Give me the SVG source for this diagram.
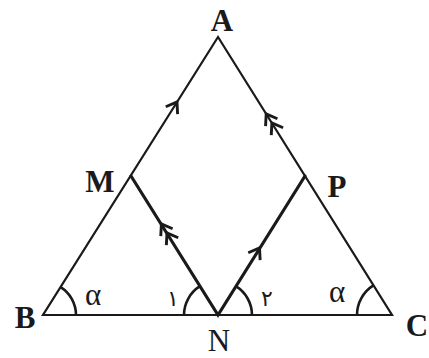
<svg xmlns="http://www.w3.org/2000/svg" width="429" height="358" viewBox="0 0 429 358">
<style>
.side{stroke:#1a1a1a;stroke-width:2.2;fill:none;stroke-linecap:round}
.thick{stroke:#1a1a1a;stroke-width:3.2;fill:none;stroke-linecap:round}
.arc{stroke:#1a1a1a;stroke-width:2.6;fill:none}
.chev{stroke:#1a1a1a;stroke-width:2.9;fill:none;stroke-linejoin:miter}
.lbl{font-family:"Liberation Serif","Times New Roman",serif;font-size:31px;fill:#1a1a1a;text-anchor:middle}
.b{font-weight:bold}
.greek{font-family:"Liberation Serif","Times New Roman",serif;font-size:31px;fill:#1a1a1a;text-anchor:middle}
.num{font-family:"DejaVu Sans",sans-serif;font-size:22px;fill:#1a1a1a;text-anchor:middle}
</style>
<defs>
<path id="ch" d="M -10,-7 L 0,0 L -10,7"/>
</defs>
<rect width="429" height="358" fill="#ffffff"/>
<g id="connectors">
<path class="side" d="M 218,37 L 43,315 L 392,315 Z"/>
<path class="thick" d="M 131,176 L 218,315 L 305,176"/>
<g class="chev">
<use href="#ch" transform="translate(177,102) rotate(-57.8)"/>
<use href="#ch" transform="translate(266.2,114) rotate(-122)"/>
<use href="#ch" transform="translate(271.9,123) rotate(-122)"/>
<use href="#ch" transform="translate(161.4,224) rotate(-122)"/>
<use href="#ch" transform="translate(167,233) rotate(-122)"/>
<use href="#ch" transform="translate(259.5,248) rotate(-58)"/>
</g>
<g class="arc">
<path d="M 76,315 A 33 33 0 0 0 60.6,287.1"/>
<path d="M 357,315 A 35 35 0 0 1 373.4,285.4"/>
<path d="M 184,315 A 34 34 0 0 1 200,286.2"/>
<path d="M 252,315 A 34 34 0 0 0 235.8,286.2"/>
</g>
</g>
<g id="A"><text class="lbl b" x="222" y="31">A</text></g>
<g id="M"><text class="lbl b" x="100" y="192">M</text></g>
<g id="P"><text class="lbl b" x="337" y="197">P</text></g>
<g id="B"><text class="lbl b" x="25" y="328">B</text></g>
<g id="N"><text class="lbl" x="219" y="351">N</text></g>
<g id="C"><text class="lbl b" x="417" y="336">C</text></g>
<g id="angles">
<text class="greek" x="93" y="305">α</text>
<text class="greek" x="337" y="302">α</text>
<text class="num" x="173" y="306">۱</text>
<text class="num" x="267" y="306">۲</text>
</g>
</svg>
